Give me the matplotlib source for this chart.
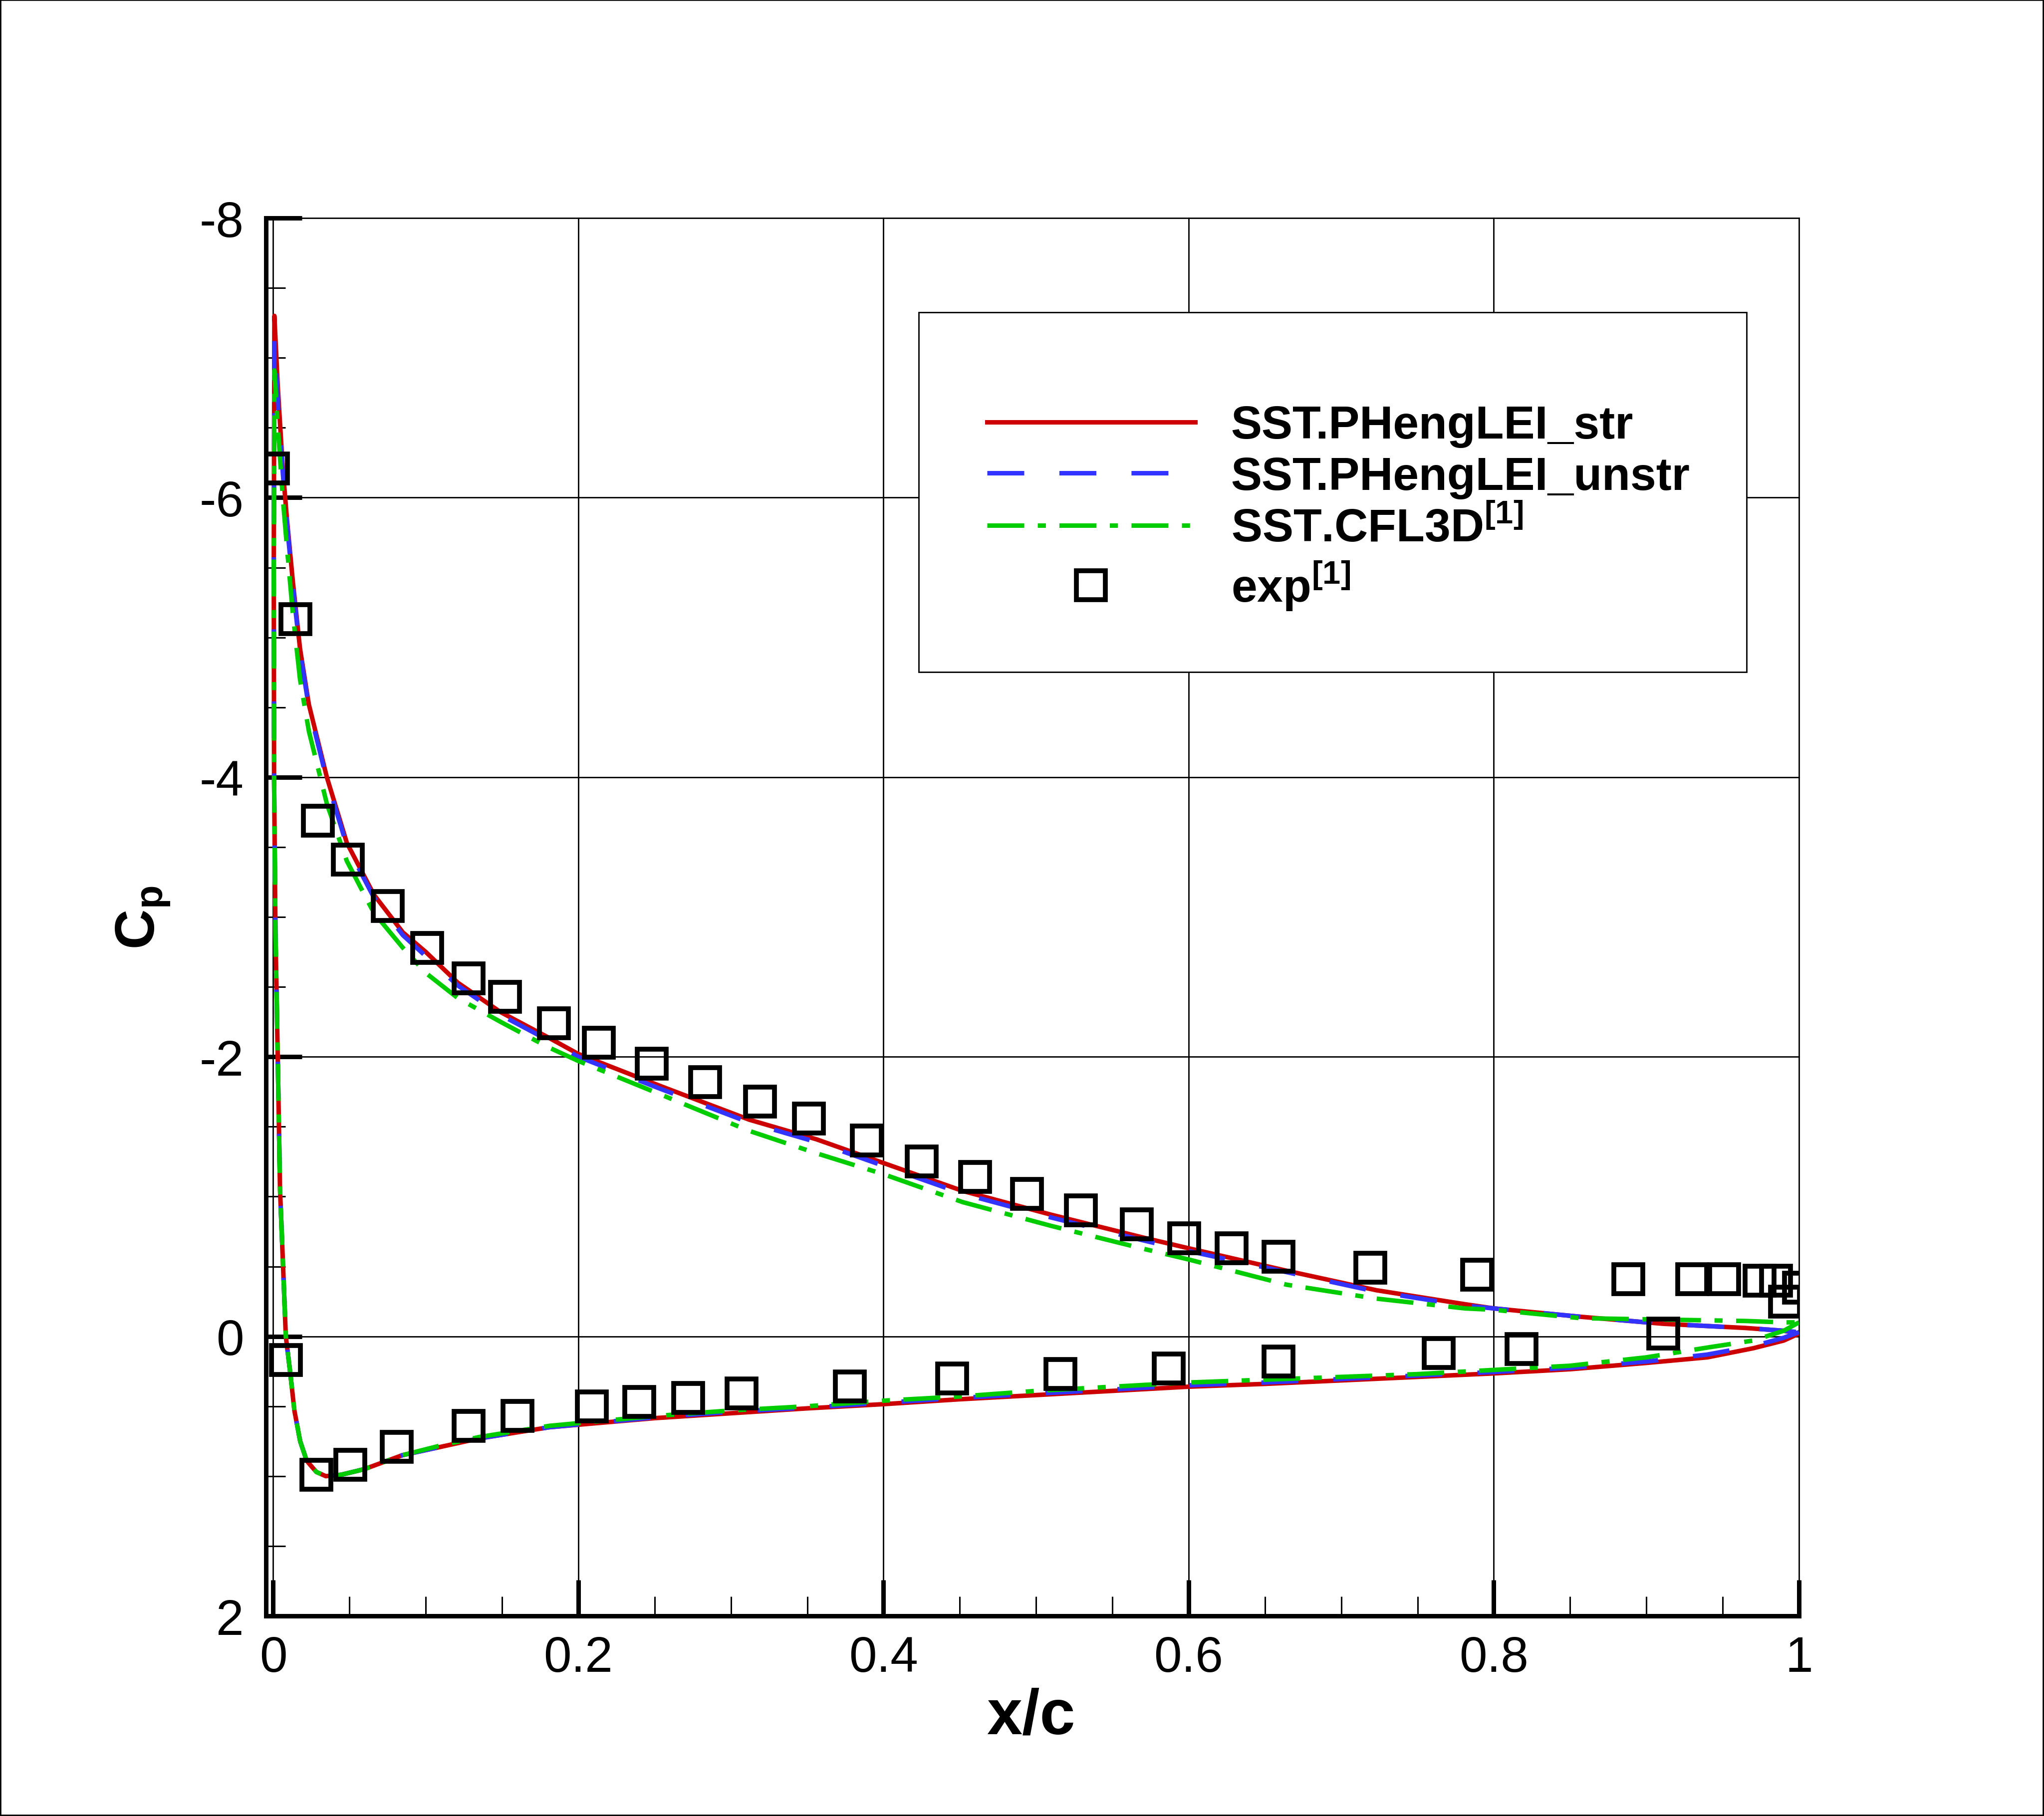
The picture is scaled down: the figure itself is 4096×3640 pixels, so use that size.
import numpy as np
import matplotlib
matplotlib.use("Agg")
import matplotlib.pyplot as plt
from matplotlib.ticker import MultipleLocator, FixedLocator, FixedFormatter
from matplotlib.patches import Rectangle

plt.rcParams["font.family"] = ["Liberation Sans", "DejaVu Sans"]
plt.rcParams["mathtext.fontset"] = "custom"
plt.rcParams["mathtext.rm"] = "Liberation Sans"
plt.rcParams["mathtext.bf"] = "Liberation Sans:bold"

# upper surface stations (peak -> trailing edge)
x_up = [0.0008, 0.003, 0.0063, 0.009, 0.0129, 0.0176, 0.0234, 0.0352, 0.0483, 0.066,
        0.085, 0.1, 0.121, 0.149, 0.18, 0.2, 0.254, 0.312, 0.356, 0.4,
        0.452, 0.51, 0.569, 0.6, 0.664, 0.723, 0.781, 0.8, 0.857, 0.911,
        0.965, 0.99, 1.0]
cp_str_up = [-7.30, -6.80, -6.21, -5.85, -5.40, -4.92, -4.52, -4.00, -3.53, -3.16,
             -2.89, -2.75, -2.53, -2.32, -2.14, -2.02, -1.79, -1.55, -1.41, -1.24,
             -1.04, -0.87, -0.71, -0.63, -0.47, -0.33, -0.23, -0.20, -0.14, -0.09,
             -0.06, -0.04, -0.02]
cp_unstr_up = [-7.13, -6.70, -6.18, -5.82, -5.37, -4.90, -4.50, -3.98, -3.51, -3.14,
               -2.87, -2.72, -2.51, -2.30, -2.12, -2.00, -1.77, -1.53, -1.39, -1.22,
               -1.02, -0.85, -0.69, -0.61, -0.46, -0.32, -0.22, -0.20, -0.14, -0.09,
               -0.06, -0.04, -0.03]
cp_cfl3d_up = [-6.91, -6.52, -6.00, -5.65, -5.17, -4.70, -4.33, -3.81, -3.40, -3.03,
               -2.78, -2.60, -2.42, -2.25, -2.07, -1.97, -1.73, -1.47, -1.31, -1.16,
               -0.96, -0.79, -0.63, -0.55, -0.37, -0.27, -0.20, -0.19, -0.13, -0.12,
               -0.11, -0.10, -0.10]

# lower surface stations (nose -> trailing edge)
x_lo = [0.0004, 0.0006, 0.0015, 0.003, 0.0045, 0.0065, 0.0083, 0.0113, 0.0139, 0.0177,
        0.022, 0.0283, 0.0345, 0.0446, 0.0597, 0.0847, 0.11, 0.135, 0.181, 0.25,
        0.3, 0.35, 0.4, 0.45, 0.5, 0.55, 0.6, 0.65, 0.7, 0.75,
        0.8, 0.85, 0.9, 0.94, 0.97, 0.99, 1.0]
cp_str_lo = [-5.5, -4.0, -2.9, -2.0, -1.05, -0.5, 0.0, 0.27, 0.53, 0.75,
             0.89, 0.97, 1.0, 0.99, 0.95, 0.85, 0.79, 0.73, 0.65, 0.585,
             0.55, 0.515, 0.485, 0.45, 0.42, 0.39, 0.36, 0.34, 0.315, 0.29,
             0.265, 0.235, 0.19, 0.15, 0.085, 0.03, -0.02]
cp_unstr_lo = [-5.5, -4.0, -2.9, -2.0, -1.05, -0.5, 0.0, 0.27, 0.53, 0.75,
               0.89, 0.97, 1.0, 0.99, 0.95, 0.85, 0.79, 0.73, 0.65, 0.58,
               0.54, 0.51, 0.475, 0.44, 0.41, 0.38, 0.35, 0.33, 0.305, 0.28,
               0.255, 0.225, 0.18, 0.13, 0.07, 0.01, -0.03]
cp_cfl3d_lo = [-5.5, -4.0, -2.9, -2.0, -1.05, -0.5, 0.0, 0.27, 0.53, 0.75,
               0.89, 0.97, 1.0, 0.99, 0.95, 0.85, 0.78, 0.72, 0.64, 0.57,
               0.53, 0.50, 0.46, 0.43, 0.39, 0.36, 0.33, 0.31, 0.29, 0.27,
               0.24, 0.21, 0.15, 0.08, 0.03, -0.04, -0.10]

# experiment
exp_x_up = [0.0, 0.0147, 0.0293, 0.049, 0.075, 0.101, 0.128, 0.152, 0.184, 0.2135,
            0.248, 0.283, 0.319, 0.351, 0.389, 0.425, 0.46, 0.494, 0.5295, 0.566,
            0.597, 0.628, 0.659, 0.719, 0.789, 0.888, 0.930, 0.951, 0.974, 0.985,
            1.0, 0.991]
exp_cp_up = [-6.21, -5.13, -3.69, -3.41, -3.08, -2.78, -2.56, -2.43, -2.24, -2.10,
             -1.95, -1.82, -1.68, -1.56, -1.40, -1.25, -1.14, -1.02, -0.90, -0.80,
             -0.70, -0.63, -0.57, -0.49, -0.44, -0.41, -0.41, -0.41, -0.40, -0.40,
             -0.35, -0.25]
exp_x_lo = [0.0083, 0.0283, 0.0505, 0.081, 0.128, 0.16, 0.209, 0.240, 0.272, 0.307,
            0.378, 0.445, 0.516, 0.587, 0.659, 0.764, 0.818, 0.911]
exp_cp_lo = [0.17, 0.99, 0.92, 0.79, 0.64, 0.57, 0.50, 0.47, 0.44, 0.41,
             0.36, 0.30, 0.27, 0.23, 0.18, 0.12, 0.09, -0.02]

x_ticks = [0, 0.2, 0.4, 0.6, 0.8, 1.0]
x_tick_labels = ["0", "0.2", "0.4", "0.6", "0.8", "1"]
y_ticks = [-8, -6, -4, -2, 0, 2]
y_tick_labels = ["-8", "-6", "-4", "-2", "0", "2"]


def loop(xl, cl, xu, cu):
    return list(xl[::-1]) + list(xu), list(cl[::-1]) + list(cu)


fig = plt.figure(figsize=(40.96, 36.41), dpi=100)
ax = fig.add_axes([0.13013, 0.11013, 0.75, 0.76957])

lw = 6.5
xs, cs = loop(x_lo, cp_str_lo, x_up, cp_str_up)
l1, = ax.plot(xs, cs, c="#CC0000", ls="-", lw=lw, label="SST.PHengLEI_str")
xs, cs = loop(x_lo, cp_unstr_lo, x_up, cp_unstr_up)
l2, = ax.plot(xs, cs, c="#3333FF", lw=lw, dashes=(8.2, 7.8), label="SST.PHengLEI_unstr")
xs, cs = loop(x_lo, cp_cfl3d_lo, x_up, cp_cfl3d_up)
l3, = ax.plot(xs, cs, c="#00CC00", lw=lw, dashes=(8.2, 3.0, 1.8, 3.0),
              label=r"SST.CFL3D$^{\mathbf{[1]}}$")
l4, = ax.plot(exp_x_up + exp_x_lo, exp_cp_up + exp_cp_lo, ls="none", marker="s", ms=42,
              mfc="none", mec="k", mew=7, label=r"exp$^{\mathbf{[1]}}$")

ax.set_xlim(-0.0047, 1.0)
ax.set_ylim(2, -8)

ax.xaxis.set_major_locator(FixedLocator(x_ticks))
ax.xaxis.set_major_formatter(FixedFormatter(x_tick_labels))
ax.yaxis.set_major_locator(FixedLocator(y_ticks))
ax.yaxis.set_major_formatter(FixedFormatter(y_tick_labels))
ax.xaxis.set_minor_locator(MultipleLocator(0.05))
ax.yaxis.set_minor_locator(MultipleLocator(0.5))

ax.tick_params(which="major", direction="in", length=52, width=6.5, labelsize=72)
ax.tick_params(which="minor", direction="in", length=28, width=2.2)
ax.tick_params(axis="x", which="major", pad=27)
ax.tick_params(axis="y", which="major", pad=32)

ax.grid(True, which="major", color="k", lw=2.0)
for gl in ax.get_xgridlines() + ax.get_ygridlines():
    gl.set_clip_on(False)

for side in ["top", "right"]:
    ax.spines[side].set_visible(False)
for side in ["left", "bottom"]:
    ax.spines[side].set_linewidth(6.5)

ax.set_xlabel("x/c", fontsize=92, fontweight="bold")
ax.xaxis.set_label_coords(0.499, -0.051)
ax.set_ylabel(r"$\mathbf{C_p}$", fontsize=80)
ax.yaxis.set_label_coords(-0.0612, 0.5)

# legend box
box = Rectangle((0.4495, 0.6298), 0.4050, 0.1980, transform=fig.transFigure,
                facecolor="white", edgecolor="k", lw=2.0, zorder=3)
fig.patches.append(box)

leg = fig.legend(handles=[l1, l2, l3, l4], loc="center left",
                 bbox_to_anchor=(1978 / 4096, 1 - 1020 / 3641),
                 prop={"family": "Liberation Sans", "weight": "bold", "size": 67},
                 frameon=False, borderpad=0, borderaxespad=0, handlelength=4.48,
                 handletextpad=0.77, labelspacing=0.18, numpoints=1)
leg.set_zorder(5)

# outer frame
fig.patches.append(Rectangle((0, 0), 1, 1, transform=fig.transFigure, fill=False,
                             edgecolor="k", lw=4, zorder=6))

fig.savefig("out.png", dpi=100)
